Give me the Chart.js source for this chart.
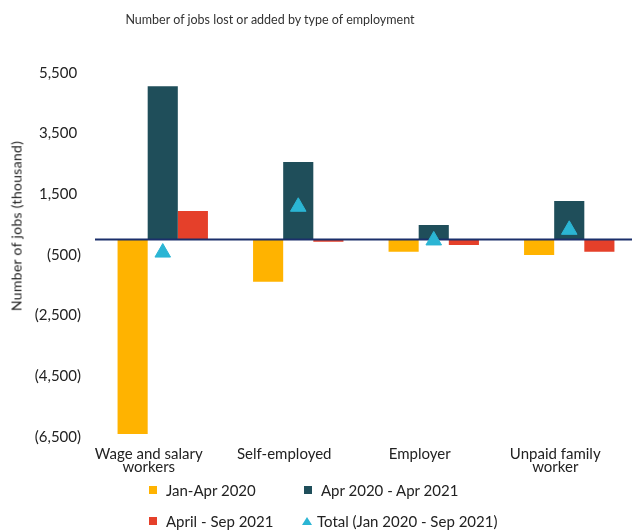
<!DOCTYPE html>
<html>
<head>
<meta charset="utf-8">
<script src="https://cdn.jsdelivr.net/npm/chart.js@4.4.1/dist/chart.umd.min.js"></script>
<style>
  html, body { margin: 0; padding: 0; background: #fff; overflow: hidden; }
  #wrap { position: relative; width: 632px; height: 531px; overflow: hidden; font-family: Lato, "Open Sans", sans-serif; color: #222; }
  #c { position: absolute; left: 0; top: 0; }
  #title { position: absolute; left: 0; top: 12px; width: 540px; text-align: center; font-size: 12.5px; color: #333; }
  #ytitle { position: absolute; left: 16px; top: 226px; transform: translate(-50%, -50%) rotate(-90deg); white-space: nowrap; font-size: 14px; letter-spacing: 0.3px; color: #222; }
  #legend { position: absolute; left: 149px; top: 481px; font-size: 15px; color: #222; }
  .row { display: flex; height: 18px; align-items: center; margin-bottom: 13px; }
  .item { display: flex; align-items: center; }
  .item.c0 { width: 155px; }
  .sq { width: 8px; height: 8px; margin-right: 9px; }
  .tri { width: 0; height: 0; border-left: 5px solid transparent; border-right: 5px solid transparent; margin-right: 5px; margin-left: -2px; }
</style>
</head>
<body>
<div id="wrap">
  <canvas id="c" width="647" height="531"></canvas>
  <div id="title">Number of jobs lost or added by type of employment</div>
  <div id="ytitle">Number of jobs (thousand)</div>
  <div id="legend"></div>
</div>
<script>
// ---- data ----
const categories = [["Wage and salary", "workers"], "Self-employed", "Employer", ["Unpaid family", "worker"]];
const seriesNames = ["Jan-Apr 2020", "Apr 2020 - Apr 2021", "April - Sep 2021", "Total (Jan 2020 - Sep 2021)"];
const janApr2020 = [-6410, -1390, -400, -510];
const apr2020Apr2021 = [5050, 2560, 480, 1270];
const aprSep2021 = [940, -70, -180, -400];
const totalJan2020Sep2021 = [-430, 1080, -30, 320];
const yMin = -6500, yMax = 5500, yStep = 2000;

const colors = ["#FFB300", "#1F4E5A", "#E5402A", "#2BB5D4"];

Chart.defaults.font.family = "Lato, 'Open Sans', sans-serif";
Chart.defaults.color = "#222";

const zeroLine = {
  id: "zeroLine",
  beforeDatasetDraw(chart, args) {
    if (args.meta.type !== "line") return;
    const y = chart.scales.y.getPixelForValue(0);
    const ctx = chart.ctx;
    ctx.save();
    ctx.strokeStyle = "#1B2F6B";
    ctx.lineWidth = 2;
    ctx.beginPath();
    ctx.moveTo(chart.chartArea.left, y);
    ctx.lineTo(chart.width, y);
    ctx.stroke();
    ctx.restore();
  }
};

function fmt(v) {
  const s = Math.abs(v).toLocaleString("en-US");
  return v < 0 ? "(" + s + ")" : s + " ";
}

const chart = new Chart(document.getElementById("c"), {
  type: "bar",
  data: {
    labels: categories,
    datasets: [
      { label: seriesNames[0], data: janApr2020, backgroundColor: colors[0], order: 1 },
      { label: seriesNames[1], data: apr2020Apr2021, backgroundColor: colors[1], order: 1 },
      { label: seriesNames[2], data: aprSep2021, backgroundColor: colors[2], order: 1 },
      { type: "line", label: seriesNames[3], data: totalJan2020Sep2021, showLine: false,
        pointStyle: "triangle", pointRadius: 9, pointHoverRadius: 9, pointBorderWidth: 1,
        backgroundColor: colors[3], borderColor: colors[3], order: 0 }
    ]
  },
  options: {
    responsive: false,
    animation: false,
    categoryPercentage: 0.667,
    barPercentage: 1.0,
    layout: { padding: { top: 72.7, bottom: 54.3, left: 0, right: 0 } },
    plugins: { legend: { display: false }, tooltip: { enabled: false }, title: { display: false } },
    scales: {
      x: {
        grid: { display: false, drawTicks: false, tickLength: 0 },
        border: { display: false },
        ticks: { font: { size: 15, lineHeight: 0.85 }, color: "#222", padding: 11, labelOffset: -14, maxRotation: 0, autoSkip: false },
        afterFit(s) { s.height = 40; }
      },
      y: {
        min: yMin, max: yMax,
        grid: { display: false, drawTicks: false, tickLength: 0 },
        border: { display: false },
        ticks: { stepSize: yStep, font: { size: 15 }, color: "#222", padding: 14, callback: (v) => fmt(v) },
        afterFit(s) { s.width = 95; }
      }
    }
  },
  plugins: [zeroLine]
});

// HTML legend built from the chart's datasets
const leg = document.getElementById("legend");
const ds = chart.data.datasets;
const order = [[0, 1], [2, 3]];
order.forEach(pair => {
  const row = document.createElement("div");
  row.className = "row";
  pair.forEach((i, k) => {
    const it = document.createElement("div");
    it.className = "item c" + k;
    const m = document.createElement("span");
    if (ds[i].type === "line") {
      m.className = "tri";
      m.style.borderBottom = "8px solid " + ds[i].backgroundColor;
    } else {
      m.className = "sq";
      m.style.background = ds[i].backgroundColor;
    }
    const t = document.createElement("span");
    t.textContent = ds[i].label;
    it.appendChild(m); it.appendChild(t);
    row.appendChild(it);
  });
  leg.appendChild(row);
});
</script>
</body>
</html>
